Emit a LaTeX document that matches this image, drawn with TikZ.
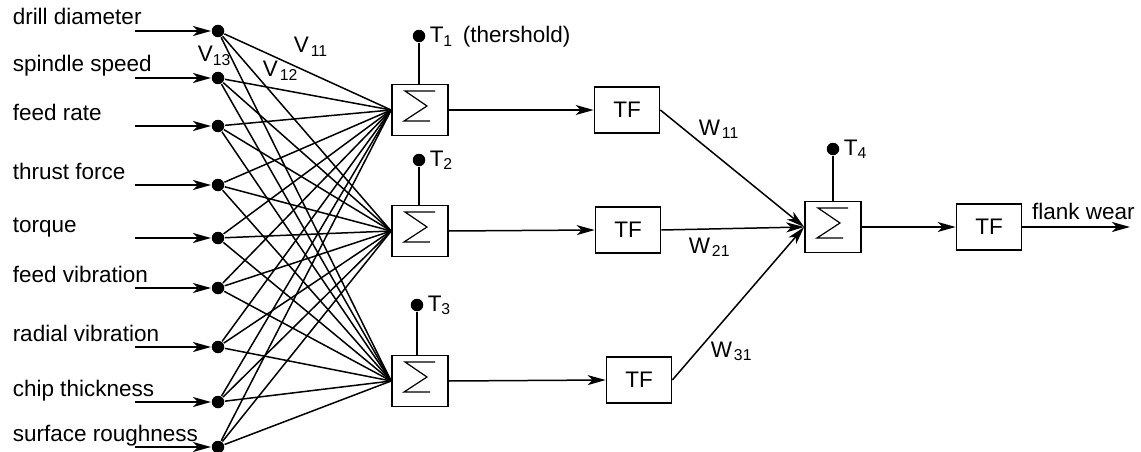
\documentclass[tikz,border=0pt]{standalone}
\usepackage{fontspec}
\setmainfont{Liberation Sans}
\usetikzlibrary{arrows.meta,calc}

\begin{document}
\begin{tikzpicture}[x=1pt,y=-1pt,line width=1.5pt,
  every node/.style={font=\fontsize{22.5}{27}\selectfont,inner sep=0pt},
  dot/.style={circle,fill,minimum size=12.5pt},
  tfbox/.style={draw,line width=1.7pt,minimum width=65pt,minimum height=46pt},
  sumbox/.style={draw,line width=1.7pt,minimum width=56pt,minimum height=51pt,
    path picture={\draw[line width=1.2pt] ([shift={(15pt,19pt)}]path picture bounding box.center)
      -- ++(-30pt,0pt) -- ++(22pt,-15pt) -- ++(-23pt,-15pt) -- ++(26pt,0pt);}},
  arr/.style={-{Stealth[length=18pt,width=10pt,inset=5pt]}}]
\useasboundingbox (0,0) rectangle (1141,452);

% input layer
\foreach \k/\y/\txt in {1/31/drill diameter,2/78/spindle speed,3/126/feed rate,
  4/185/thrust force,5/238/torque,6/288/feed vibration,7/347/radial vibration,
  8/402/chip thickness,9/447/surface roughness}{
  \node[dot] (i\k) at (218,\y) {};
  \coordinate (a\k) at (135,\y);
  \node[anchor=base west] (l\k) at (12,\y-6) {\txt};
  \draw[arr] (a\k) -- (i\k);
}

% hidden layer
\node[sumbox] (s1) at (420,110) {};
\node[sumbox] (s2) at (420,231) {};
\node[sumbox] (s3) at (420,381) {};
\foreach \k in {1,...,9}
  \foreach \j in {1,2,3}
    \draw (i\k) -- (s\j.west);

\node[anchor=base west] (v11) at (293,53) {V\kern2pt\textsubscript{11}};
\node[anchor=base west] (v12) at (262,77) {V\kern2pt\textsubscript{12}};
\node[anchor=base west] (v13) at (197,62) {V\textsubscript{13}};

% thresholds
\node[dot] (t1) at (419,36) {};
\node[dot] (t2) at (419,160) {};
\node[dot] (t3) at (417,305) {};
\node[dot] (t4) at (833,149) {};
\draw (t1) -- (t1 |- s1.north);
\draw (t2) -- (t2 |- s2.north);
\draw (t3) -- (t3 |- s3.north);
\node[anchor=base west] (t1l) at ([shift={(3pt,-7pt)}]t1.east) {T\textsubscript{1}\hspace{.45em}(thershold)};
\node[anchor=base west] (t2l) at ([shift={(3pt,-6pt)}]t2.east) {T\textsubscript{2}};
\node[anchor=base west] (t3l) at ([shift={(3pt,-6pt)}]t3.east) {T\textsubscript{3}};
\node[anchor=base west] (t4l) at ([shift={(3pt,-6pt)}]t4.east) {T\textsubscript{4}};

% transfer functions
\node[tfbox] (f1) at (627,110) {TF};
\node[tfbox] (f2) at (628,230) {TF};
\node[tfbox] (f3) at (639,380) {TF};
\draw[arr] (s1.east) -- (f1.west);
\draw[arr] (s2.east) -- (f2.west);
\draw[arr] (s3.east) -- (f3.west);

% output layer
\node[sumbox] (s4) at (833,227) {};
\draw (t4) -- (t4 |- s4.north);
\draw[arr] (f1.east) -- (s4.west);
\draw[arr] (f2.east) -- (s4.west);
\draw[arr] (f3.east) -- (s4.west);
\node[anchor=base west] (w11) at (698,135) {W\kern2pt\textsubscript{11}};
\node[anchor=base west] (w21) at (688,253) {W\kern2pt\textsubscript{21}};
\node[anchor=base west] (w31) at (710,357) {W\kern2pt\textsubscript{31}};

\node[tfbox] (f4) at (989,227) {TF};
\coordinate (out) at (1130,227);
\draw[arr] (s4.east) -- (f4.west);
\draw[arr] (f4.east) -- (out);
\node[anchor=base west] (outl) at ([shift={(9pt,8pt)}]f4.east) {flank wear};
\end{tikzpicture}
\end{document}
